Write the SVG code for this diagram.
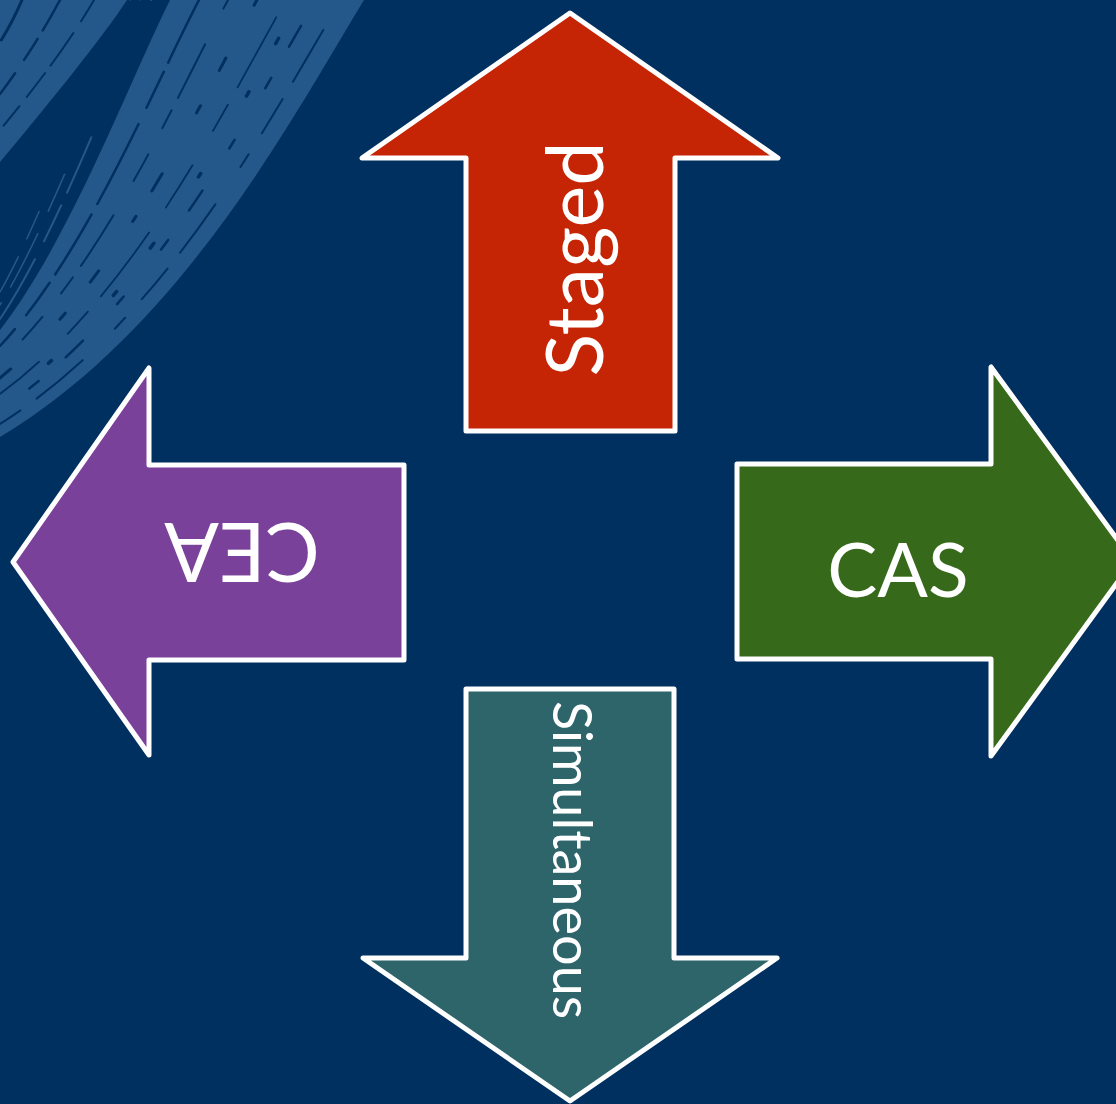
<svg xmlns="http://www.w3.org/2000/svg" width="1116" height="1104" viewBox="0 0 1116 1104">
  <style>
    .arrow { stroke: #ffffff; stroke-width: 5; stroke-linejoin: round; }
    .label { fill: #ffffff; font-family: Lato, "Noto Sans", "DejaVu Sans", sans-serif; font-weight: 400; text-anchor: middle; }
    .streak { fill: none; stroke: #00305f; stroke-linecap: round; }
    .hair { fill: none; stroke: #25588a; stroke-linecap: round; }
  </style>

  <!-- backdrop -->
  <rect id="background" x="0" y="0" width="1116" height="1104" fill="#00305f"/>

  <!-- brush sweep in the top-left corner -->
  <g id="brush">
    <!-- narrow outer sweep -->
    <path d="M0,0 L127,0 C102,38 55,96 0,162 Z" fill="#25588a"/>
    <!-- broad main sweep -->
    <path d="M170,0 L364,0 C292,118 182,328 0,437 L0,330 C70,240 130,80 170,0 Z" fill="#25588a"/>

    <!-- dark bristle gaps along the main sweep -->
    <path class="streak" stroke-width="2.5" stroke-dasharray="70 10 40 18 90 12" d="M199,0 C154,86 87,253 0,346"/>
    <path class="streak" stroke-width="2" stroke-dasharray="30 40 60 14 20 30" stroke-dashoffset="20" d="M228,0 C179,91 104,266 0,362"/>
    <path class="streak" stroke-width="3" stroke-dasharray="6 60 14 40 8 70 20 30" d="M257,0 C203,97 120,280 0,378"/>
    <path class="streak" stroke-width="1.8" stroke-dasharray="50 30 80 20 30 40" stroke-dashoffset="60" d="M286,0 C227,103 137,293 0,394"/>
    <path class="streak" stroke-width="2.5" stroke-dasharray="10 50 24 36 12 60" stroke-dashoffset="30" d="M316,0 C252,108 154,306 0,410"/>
    <path class="streak" stroke-width="2" stroke-dasharray="40 25 15 45 60 20" stroke-dashoffset="90" d="M341,0 C273,113 169,317 0,424"/>
    <path class="streak" stroke-width="3.5" stroke-dasharray="4 80 6 55 5 90" stroke-dashoffset="40" d="M300,0 C240,105 146,300 0,402"/>

    <!-- dark bristle gaps along the outer sweep -->
    <path class="streak" stroke-width="3" stroke-dasharray="45 12 25 10 60 14" d="M22,0 C16,14 9,28 0,42"/>
    <path class="streak" stroke-width="2.5" stroke-dasharray="35 10 25 16 50 8" d="M60,0 C44,30 24,62 0,94"/>
    <path class="streak" stroke-width="2" stroke-dasharray="25 14 40 9 30 12" d="M94,0 C72,38 40,82 0,130"/>

    <!-- loose hairs trailing on the inner side of the main sweep -->
    <path class="hair" stroke-width="2" stroke-dasharray="0 150 60 14 40 20 70" d="M151,0 C114,76 59,231 0,319"/>
    <path class="hair" stroke-width="1.5" stroke-dasharray="0 190 40 25 60 18 30" d="M140,0 C104,73 50,224 0,305"/>
    <path class="hair" stroke-width="1.5" stroke-dasharray="0 230 30 20 50 30" d="M130,0 C95,70 42,218 0,292"/>
  </g>

  <!-- Staged: points up -->
  <g id="staged">
    <path class="arrow" fill="#c52405" d="M570,13 L778,158 L675,158 L675,431 L466,431 L466,158 L362,158 Z"/>
    <text class="label" font-size="79" transform="translate(603,259) rotate(-90)">Staged</text>
  </g>

  <!-- CAS: points right -->
  <g id="cas">
    <path class="arrow" fill="#37691b" d="M1133,561 L991,367 L991,464 L737,464 L737,659 L991,659 L991,756 Z"/>
    <text class="label" font-size="75" x="898" y="597">CAS</text>
  </g>

  <!-- CEA: points left -->
  <g id="cea">
    <path class="arrow" fill="#7a419a" d="M13,562 L149,368 L149,465 L404,465 L404,660 L149,660 L149,755 Z"/>
    <text class="label" font-size="81" transform="translate(242,523) rotate(180)">CEA</text>
  </g>

  <!-- Simultaneous: points down -->
  <g id="simultaneous">
    <path class="arrow" fill="#2d656b" d="M570,1101 L777,958 L674,958 L674,689 L466,689 L466,958 L363,958 Z"/>
    <text class="label" font-size="54" transform="translate(553,860) rotate(90)">Simultaneous</text>
  </g>
</svg>
